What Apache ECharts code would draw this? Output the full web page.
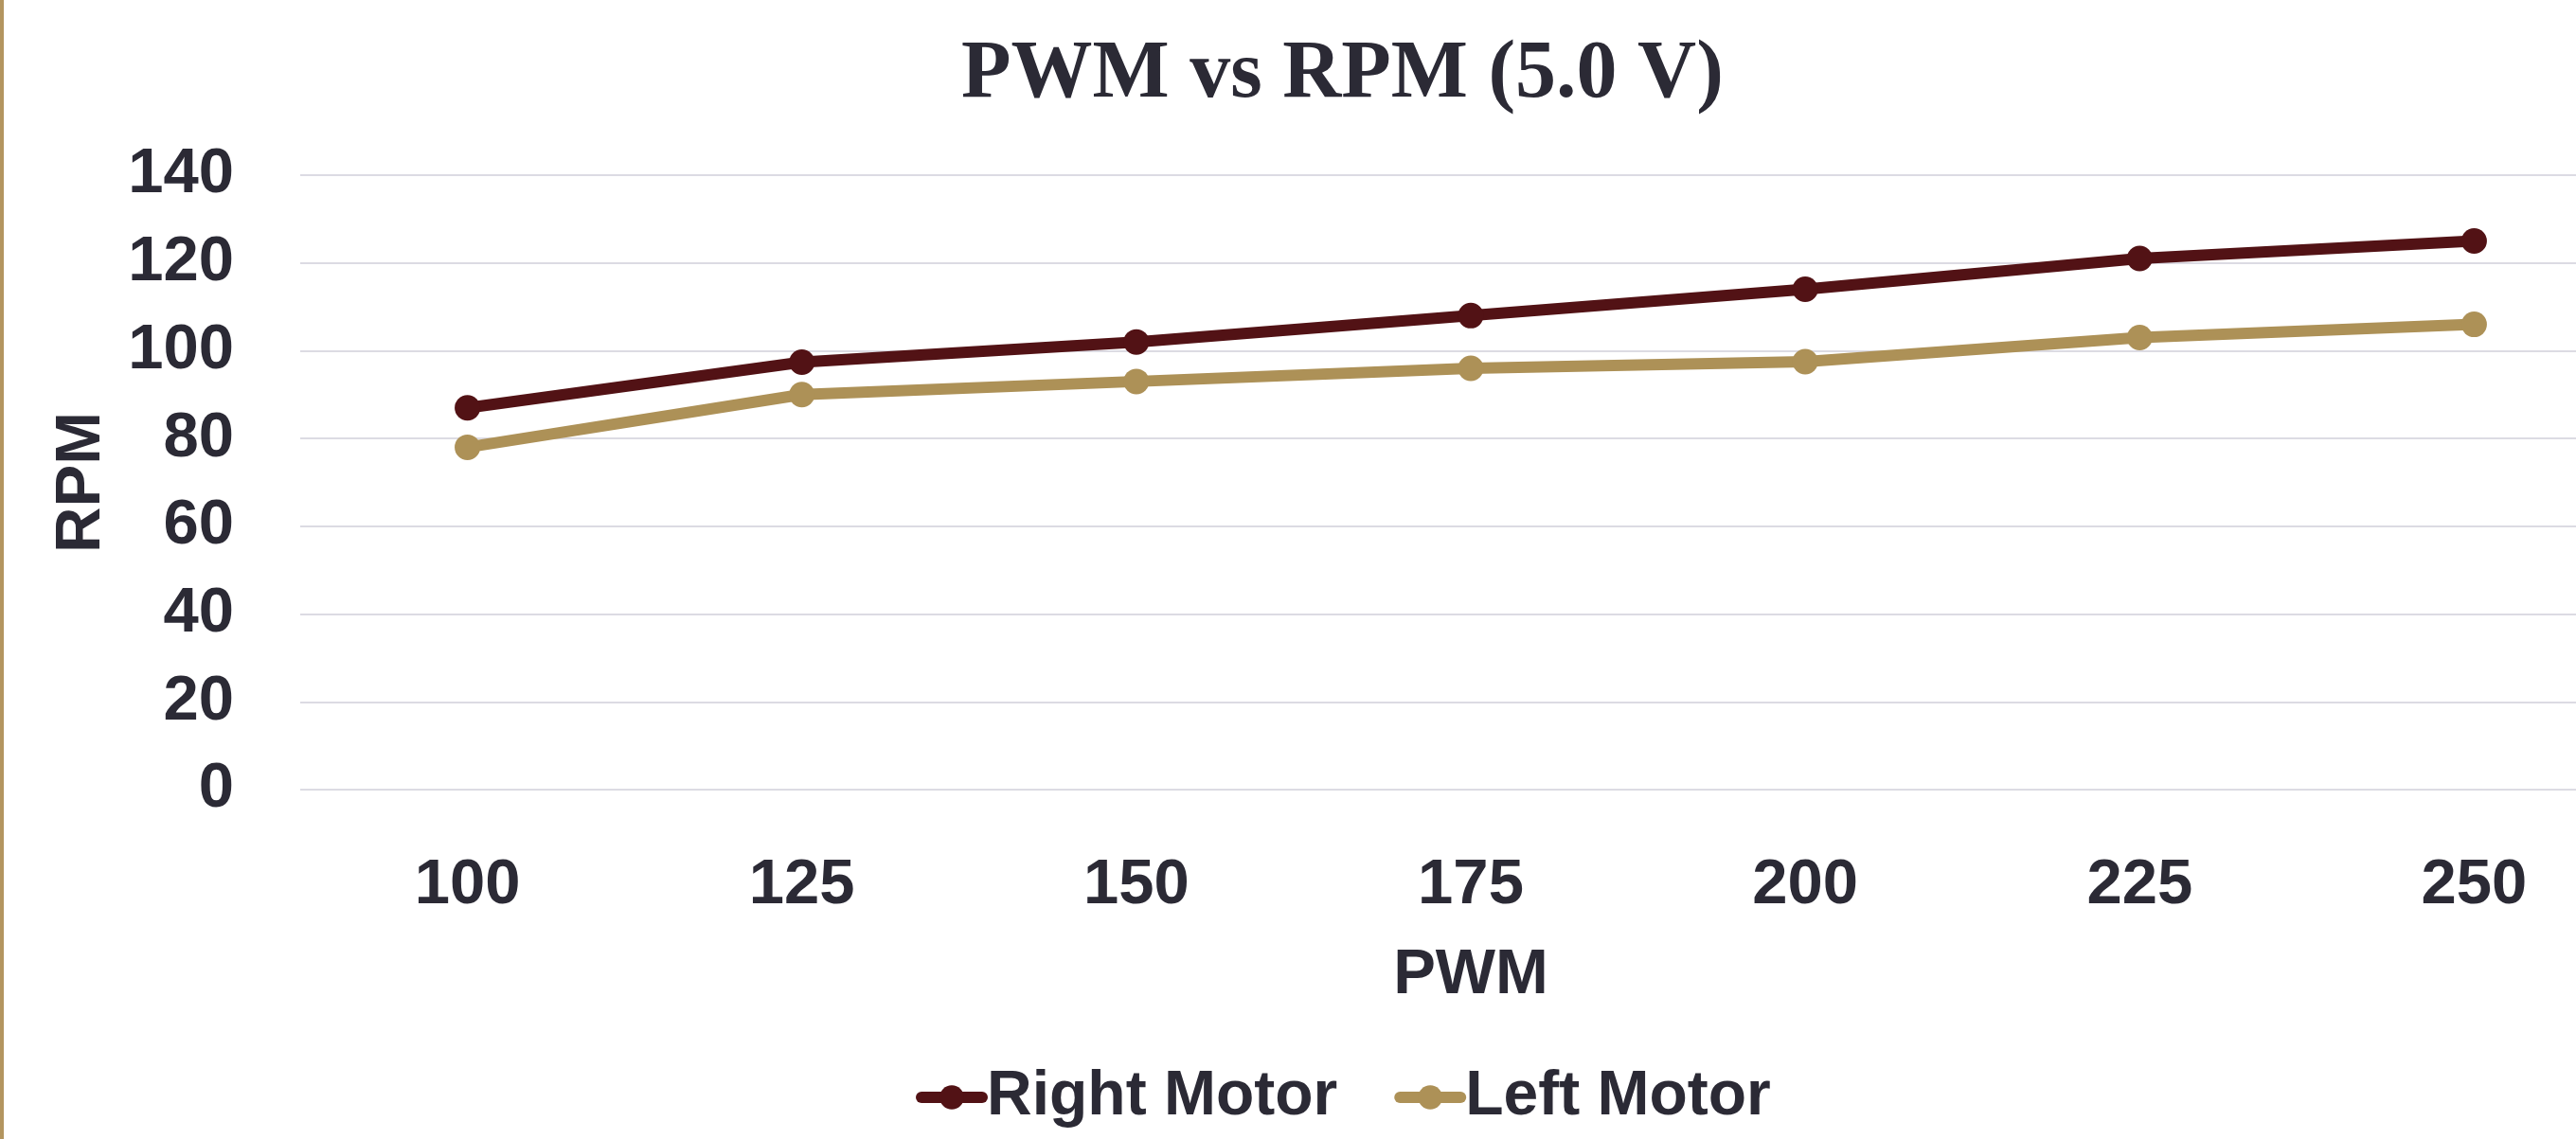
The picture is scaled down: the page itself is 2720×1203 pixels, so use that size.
<!DOCTYPE html>
<html>
	<head>
		<meta charset="UTF-8">
		<title>PWM vs RPM (5.0 V)</title>
		<style>
			html, body { margin: 0; padding: 0; background: #ffffff; }
		</style>
	</head>
	<body>
		<div id="mainPage" style="width:2720px;height:1203px;"></div>
	</body>
	<script src="https://cdn.jsdelivr.net/npm/echarts@6/dist/echarts.min.js"></script>
	<script type="text/javascript">
		// PWM setpoints on the x axis
		var pwmLevels = ['100', '125', '150', '175', '200', '225', '250'];
		var rightMotor = [87, 97.4, 102, 108, 114, 121, 125];
		var leftMotor = [78, 90, 93, 96, 97.5, 103, 106];
		var rpmTicks = { min: 0, max: 140, interval: 20 };

		var textColor = '#2b2a35';
		var sans = 'Liberation Sans';

		var myChart = echarts.init(document.getElementById('mainPage'));
		myChart.setOption
		({
			animation: false,
			title:
			{
				text: 'PWM vs RPM (5.0 V)',
				left: 1010,
				top: 32,
				textStyle:
				{
					fontFamily: 'Liberation Serif',
					fontWeight: 'bold',
					fontSize: 86,
					color: textColor
				}
			},
			// thin gold rule down the left edge
			graphic:
			[{
				type: 'rect',
				left: 0,
				top: 0,
				shape: { width: 4, height: 1203 },
				style: { fill: '#b3955f' }
			}],
			legend:
			{
				left: 962,
				top: 1121,
				itemWidth: 64,
				itemHeight: 32,
				itemGap: 60,
				lineStyle: { width: 12, cap: 'round' },
				textStyle:
				{
					fontFamily: sans,
					fontWeight: 'bold',
					fontSize: 66,
					color: textColor
				}
			},
			// the plot runs past the right edge, as in the cropped original
			grid:
			{
				left: 317,
				top: 185,
				width: 2472,
				height: 649,
				outerBoundsMode: 'none'
			},
			xAxis:
			{
				type: 'category',
				data: pwmLevels,
				boundaryGap: true,
				name: 'PWM',
				nameLocation: 'middle',
				nameGap: 163,
				nameTextStyle:
				{
					fontFamily: sans,
					fontWeight: 'bold',
					fontSize: 67,
					color: textColor
				},
				axisLine: { show: false },
				axisTick: { show: false },
				axisLabel:
				{
					margin: 68,
					fontFamily: sans,
					fontWeight: 'bold',
					fontSize: 67,
					color: textColor
				}
			},
			yAxis:
			{
				type: 'value',
				min: rpmTicks.min,
				max: rpmTicks.max,
				interval: rpmTicks.interval,
				name: 'RPM',
				nameLocation: 'middle',
				nameGap: 197,
				nameTextStyle:
				{
					fontFamily: sans,
					fontWeight: 'bold',
					fontSize: 67,
					color: textColor
				},
				axisLine: { show: false },
				axisTick: { show: false },
				axisLabel:
				{
					margin: 70,
					fontFamily: sans,
					fontWeight: 'bold',
					fontSize: 67,
					color: textColor
				},
				splitLine:
				{
					lineStyle: { color: '#dcdbe3', width: 2 }
				}
			},
			series:
			[{
				name: 'Right Motor',
				type: 'line',
				data: rightMotor,
				symbol: 'circle',
				symbolSize: 27,
				lineStyle: { width: 12, color: '#521215' },
				itemStyle: { color: '#521215' }
			},
			{
				name: 'Left Motor',
				type: 'line',
				data: leftMotor,
				symbol: 'circle',
				symbolSize: 27,
				lineStyle: { width: 12, color: '#ad9157' },
				itemStyle: { color: '#ad9157' }
			}]
		});
	</script>
</html>
